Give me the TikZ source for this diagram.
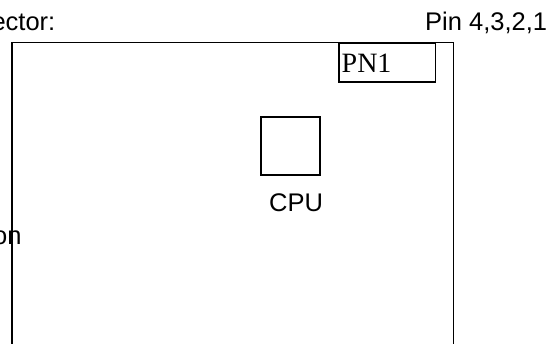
\documentclass[tikz,border=0pt]{standalone}
\usepackage{fontspec}
\setmainfont{Liberation Sans}
\newfontfamily\timesf{Liberation Serif}
\begin{document}
\begin{tikzpicture}[x=1pt,y=1pt,
  lbl/.style={inner sep=0pt,font=\fontsize{25.5}{30}\selectfont},
  tlbl/.style={inner sep=0pt,font=\timesf\fontsize{28}{32}\selectfont},
  frame/.style={draw=black,line width=1.8pt}]
\useasboundingbox (0,0) rectangle (549,-344);
% main board outline (open at bottom)
\coordinate (bl) at (11.7,-350);
\coordinate (tl) at (11.7,-42.5);
\coordinate (tr) at (453.5,-42.5);
\coordinate (br) at (453.5,-350);
\draw[frame] (bl) -- (tl) -- (tr) -- (br);
% PN1 connector box
\node[frame,minimum width=96.5pt,minimum height=38.5pt,anchor=north west,inner sep=0pt] (pn) at (338,-42.5) {};
\node[tlbl,anchor=base west] (pnt) at (341.5,-72.7) {PN1};
% CPU
\node[frame,minimum width=59pt,minimum height=58pt,anchor=north west,inner sep=0pt] (cpu) at (260,-116) {};
\node[lbl,anchor=base west] (cput) at (269,-212) {CPU};
% labels
\node[lbl,anchor=base west] (pin) at (425,-30.5) {Pin 4,3,2,1};
\node[lbl,anchor=base east] (con) at (55.5,-30.5) {ector:};
\node[lbl,anchor=base east] (on) at (21.7,-245) {on};
\end{tikzpicture}
\end{document}
